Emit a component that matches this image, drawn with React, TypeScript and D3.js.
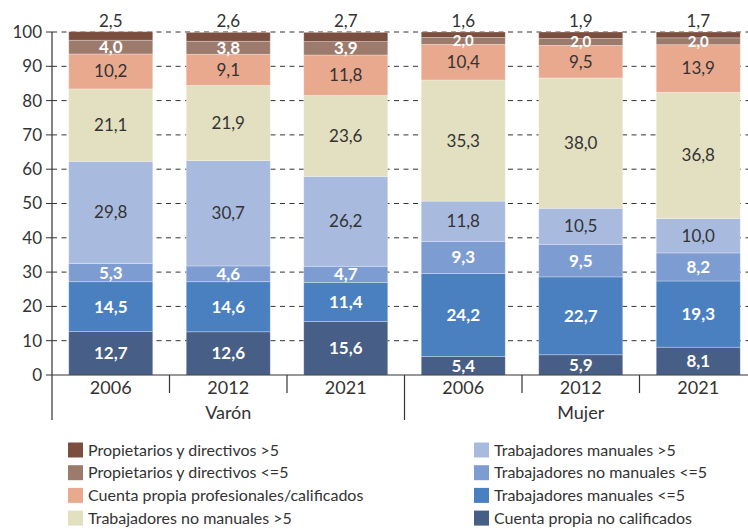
import React from "react";
import * as d3 from "d3";

const groups = ["Varón", "Mujer"];
const years = ["2006", "2012", "2021"];
// bottom to top
const series = [
  "Cuenta propia no calificados",
  "Trabajadores manuales <=5",
  "Trabajadores no manuales <=5",
  "Trabajadores manuales >5",
  "Trabajadores no manuales >5",
  "Cuenta propia profesionales/calificados",
  "Propietarios y directivos <=5",
  "Propietarios y directivos >5",
];
const colors = ["#475e86", "#4a7fc0", "#7d9dd2", "#a9badf", "#e2e0c0", "#e9a98e", "#9d7b6c", "#7a4f3f"];
const whiteText = [true, true, true, false, false, false, true, false];

// one row per bar: Varón 2006, 2012, 2021, Mujer 2006, 2012, 2021
const cuentaNoCalif = [12.7, 12.6, 15.6, 5.4, 5.9, 8.1];
const manualesMenos = [14.5, 14.6, 11.4, 24.2, 22.7, 19.3];
const noManualesMenos = [5.3, 4.6, 4.7, 9.3, 9.5, 8.2];
const manualesMas = [29.8, 30.7, 26.2, 11.8, 10.5, 10.0];
const noManualesMas = [21.1, 21.9, 23.6, 35.3, 38.0, 36.8];
const cuentaProf = [10.2, 9.1, 11.8, 10.4, 9.5, 13.9];
const propMenos = [4.0, 3.8, 3.9, 2.0, 2.0, 2.0];
const propMas = [2.5, 2.6, 2.7, 1.6, 1.9, 1.7];

const yTicks = [0, 10, 20, 30, 40, 50, 60, 70, 80, 90, 100];

const legendLeft = [7, 6, 5, 4];
const legendRight = [3, 2, 1, 0];

const font = "Lato, 'Open Sans', sans-serif";
const ink = "#333";

export default function App() {
  const cols = [cuentaNoCalif, manualesMenos, noManualesMenos, manualesMas, noManualesMas, cuentaProf, propMenos, propMas];
  const ids: string[] = [];
  groups.forEach((g) => years.forEach((yr) => ids.push(g + "-" + yr)));
  const rows = ids.map((id, i) => {
    const r: any = { id };
    series.forEach((s, k) => (r[s] = cols[k][i]));
    return r;
  });
  const stacked = d3.stack<any>().keys(series)(rows);

  const left = 52;
  const right = 757;
  const x = d3.scaleBand<string>().domain(ids).range([left, right]).paddingInner(0.285).paddingOuter(0.1425);
  const y = d3.scaleLinear().domain([0, 100]).range([375, 32]);
  const step = x.step();
  const fmt = (v: number) => d3.format(".1f")(v).replace(".", ",");

  return (
    <svg width={748} height={529} style={{ position: "absolute", left: 0, top: 0, fontFamily: font }}>
      {yTicks.map((t) => (
        <g key={t}>
          {t > 0 && (
            <line x1={left} x2={right} y1={y(t)} y2={y(t)} stroke="#333" strokeWidth={1} strokeDasharray="5,4.5" />
          )}
          <line x1={46} x2={left} y1={y(t)} y2={y(t)} stroke="#333" />
          <text x={42} y={y(t)} dy="0.35em" textAnchor="end" fontSize={17} fill={ink}>
            {t}
          </text>
        </g>
      ))}
      {stacked.map((layer, k) => (
        <g key={layer.key} fill={colors[k]}>
          {layer.map((d, i) => (
            <rect
              key={i}
              x={x(ids[i])}
              y={y(d[1])}
              width={x.bandwidth()}
              height={y(d[0]) - y(d[1])}
              stroke="#ffffff"
              strokeOpacity={0.35}
              strokeWidth={0.8}
            />
          ))}
        </g>
      ))}
      {stacked.map((layer, k) => (
        <g key={"l" + layer.key}>
          {layer.map((d, i) => {
            const top = k === series.length - 1;
            const v = d[1] - d[0];
            const cy = top ? y(d[1]) - 11 : (y(d[0]) + y(d[1])) / 2;
            return (
              <text
                key={i}
                x={x(ids[i])! + x.bandwidth() / 2}
                y={cy}
                dy="0.35em"
                textAnchor="middle"
                fontSize={!top && v < 3 ? 15 : 17}
                fontWeight={whiteText[k] ? 700 : 400}
                fill={whiteText[k] ? "#fff" : ink}
              >
                {fmt(v)}
              </text>
            );
          })}
        </g>
      ))}
      <line x1={left} x2={right} y1={y(0)} y2={y(0)} stroke="#333" strokeWidth={1.2} />
      <line x1={left} x2={left} y1={y(100)} y2={420} stroke="#333" strokeWidth={1.2} />
      {d3.range(1, ids.length).map((i) => {
        const bx = left + i * step;
        const long = i % years.length === 0;
        return <line key={i} x1={bx} x2={bx} y1={y(0)} y2={long ? 420 : 393} stroke="#333" strokeWidth={1.2} />;
      })}
      {ids.map((id, i) => (
        <text key={id} x={x(id)! + x.bandwidth() / 2} y={394} textAnchor="middle" fontSize={18} fill={ink}>
          {years[i % years.length]}
        </text>
      ))}
      {groups.map((g, gi) => (
        <text
          key={g}
          x={left + (gi * years.length + years.length / 2) * step}
          y={419}
          textAnchor="middle"
          fontSize={18}
          fill={ink}
        >
          {g}
        </text>
      ))}
      {[legendLeft, legendRight].map((col, ci) => (
        <g key={ci} transform={`translate(${ci === 0 ? 68 : 474},0)`}>
          {col.map((k, j) => (
            <g key={k} transform={`translate(0,${450 + j * 22.7})`}>
              <rect x={0} y={-7.5} width={15} height={15} fill={colors[k]} />
              <text x={20} y={0} dy="0.35em" fontSize={16} fill={ink}>
                {series[k]}
              </text>
            </g>
          ))}
        </g>
      ))}
    </svg>
  );
}
